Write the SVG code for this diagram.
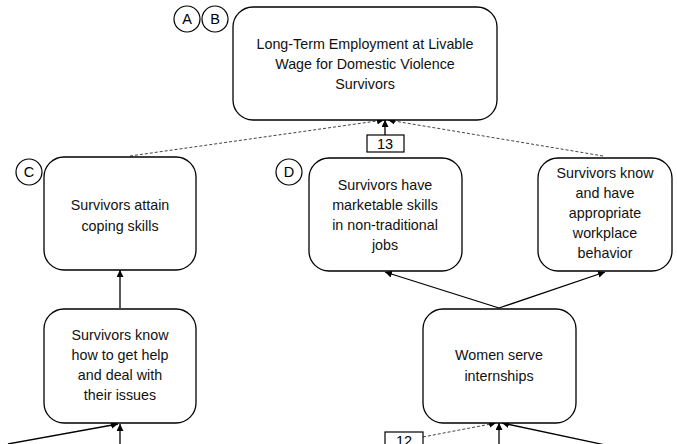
<svg xmlns="http://www.w3.org/2000/svg" width="677" height="444" viewBox="0 0 677 444">
  <defs>
    <marker id="arrow" viewBox="0 0 10 10" refX="10" refY="5" markerWidth="7" markerHeight="7" orient="auto-start-reverse" markerUnits="userSpaceOnUse">
      <path d="M0,0 L10,5 L0,10 z" fill="#000"/>
    </marker>
    <style>
      .box { fill: #fff; stroke: #000; stroke-width: 1.3; }
      .tag { fill: #fff; stroke: #000; stroke-width: 1.2; }
      .lbl { font-family: "Liberation Sans", Arial, sans-serif; font-size: 14.3px; fill: #111; text-anchor: middle; }
      .tagtxt { font-family: "Liberation Sans", Arial, sans-serif; font-size: 14.5px; fill: #000; text-anchor: middle; }
      .solid { stroke: #000; stroke-width: 1.3; fill: none; }
      .dash { stroke: #444; stroke-width: 1; stroke-dasharray: 3 2; fill: none; }
    </style>
  </defs>
  <rect width="677" height="444" fill="#fff"/>

  <!-- connectors -->
  <g id="connectors">
    <line class="dash" x1="130" y1="156" x2="384" y2="120" marker-end="url(#arrow)"/>
    <line class="dash" x1="603" y1="156" x2="388" y2="120" marker-end="url(#arrow)"/>
    <line class="solid" x1="385" y1="135" x2="385" y2="120" marker-end="url(#arrow)"/>
    <line class="solid" x1="120" y1="308" x2="120" y2="270" marker-end="url(#arrow)"/>
    <line class="solid" x1="499" y1="308" x2="385" y2="272" marker-end="url(#arrow)"/>
    <line class="solid" x1="499" y1="308" x2="605" y2="272" marker-end="url(#arrow)"/>
    <line class="solid" x1="8" y1="444" x2="118" y2="424" marker-end="url(#arrow)"/>
    <line class="solid" x1="120" y1="444" x2="120" y2="424" marker-end="url(#arrow)"/>
    <line class="dash" x1="423" y1="437" x2="496" y2="423" marker-end="url(#arrow)"/>
    <line class="solid" x1="499" y1="444" x2="499" y2="423" marker-end="url(#arrow)"/>
    <line class="solid" x1="610" y1="446" x2="502" y2="423" marker-end="url(#arrow)"/>
  </g>

  <!-- goal -->
  <g id="goal">
    <rect class="box" x="233" y="7" width="264" height="113" rx="20" ry="20"/>
    <text class="lbl" x="365" y="49">Long-Term Employment at Livable</text>
    <text class="lbl" x="365" y="69">Wage for Domestic Violence</text>
    <text class="lbl" x="365" y="89">Survivors</text>
  </g>
  <g id="tag-a">
    <circle class="tag" cx="187" cy="19" r="13"/>
    <text class="tagtxt" x="187" y="24">A</text>
  </g>
  <g id="tag-b">
    <circle class="tag" cx="215" cy="19" r="13"/>
    <text class="tagtxt" x="215" y="24">B</text>
  </g>

  <!-- outcome: coping skills -->
  <g id="coping">
    <rect class="box" x="44" y="157" width="152" height="113" rx="20" ry="20"/>
    <text class="lbl" x="120" y="210">Survivors attain</text>
    <text class="lbl" x="120" y="231">coping skills</text>
  </g>
  <g id="tag-c">
    <circle class="tag" cx="29" cy="172" r="13"/>
    <text class="tagtxt" x="29" y="177">C</text>
  </g>

  <!-- outcome: marketable skills -->
  <g id="skills">
    <rect class="box" x="309" y="158" width="153" height="113" rx="20" ry="20"/>
    <text class="lbl" x="385" y="190">Survivors have</text>
    <text class="lbl" x="385" y="210">marketable skills</text>
    <text class="lbl" x="385" y="230">in non-traditional</text>
    <text class="lbl" x="385" y="250">jobs</text>
  </g>
  <g id="tag-d">
    <circle class="tag" cx="289" cy="172" r="13"/>
    <text class="tagtxt" x="289" y="177">D</text>
  </g>
  <g id="indicator-13">
    <rect class="tag" x="367" y="135" width="37" height="17"/>
    <text class="tagtxt" x="385" y="149">13</text>
  </g>

  <!-- outcome: workplace behavior -->
  <g id="behavior">
    <rect class="box" x="538" y="158" width="134" height="113" rx="20" ry="20"/>
    <text class="lbl" x="605" y="178">Survivors know</text>
    <text class="lbl" x="605" y="198">and have</text>
    <text class="lbl" x="605" y="218">appropriate</text>
    <text class="lbl" x="605" y="238">workplace</text>
    <text class="lbl" x="605" y="258">behavior</text>
  </g>

  <!-- outcome: get help -->
  <g id="help">
    <rect class="box" x="44" y="309" width="152" height="114" rx="20" ry="20"/>
    <text class="lbl" x="120" y="340">Survivors know</text>
    <text class="lbl" x="120" y="360">how to get help</text>
    <text class="lbl" x="120" y="380">and deal with</text>
    <text class="lbl" x="120" y="400">their issues</text>
  </g>

  <!-- activity: internships -->
  <g id="internships">
    <rect class="box" x="423" y="309" width="153" height="114" rx="20" ry="20"/>
    <text class="lbl" x="499" y="360">Women serve</text>
    <text class="lbl" x="499" y="381">internships</text>
  </g>
  <g id="indicator-12">
    <rect class="tag" x="385" y="432" width="38" height="17"/>
    <text class="tagtxt" x="404" y="446">12</text>
  </g>
</svg>
